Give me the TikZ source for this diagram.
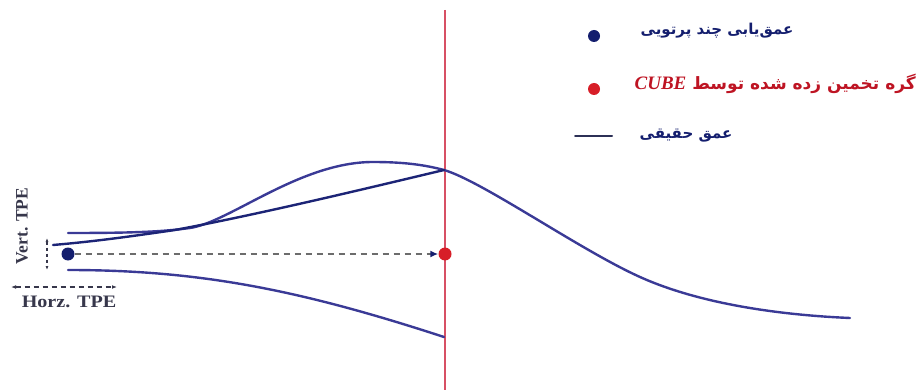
\documentclass[tikz,border=0pt]{standalone}
\usepackage{fontspec}
\setmainfont{Liberation Serif}
\newfontfamily\arabicfont[Script=Arabic]{DejaVu Sans}
\TeXXeTstate=1
\usetikzlibrary{arrows.meta}
\definecolor{curveblue}{RGB}{58,58,150}
\definecolor{navy}{RGB}{20,30,110}
\definecolor{redline}{RGB}{215,80,100}
\definecolor{reddot}{RGB}{215,30,40}
\definecolor{legred}{RGB}{190,20,35}
\definecolor{labgray}{RGB}{55,55,75}
\tikzset{
  curve/.style={draw=curveblue, line width=2.4pt, line cap=round},
  mbdot/.style={circle, fill=navy, inner sep=0pt, minimum size=13pt},
  cubedot/.style={circle, fill=reddot, inner sep=0pt, minimum size=13pt},
  legtext/.style={font=\arabicfont\bfseries\fontsize{15}{17}\selectfont, inner sep=0pt},
  tpelabel/.style={font=\bfseries\fontsize{17.5}{20}\selectfont, text=labgray, inner sep=0pt},
}
\begin{document}
\begin{tikzpicture}[x=1pt,y=-1pt]
\useasboundingbox (0,0) rectangle (918,390);
% red vertical line
\coordinate (rtop) at (445,10);
\coordinate (rbot) at (445,390);
\draw[redline, line width=2.8pt] (rtop) -- (rbot);
% true depth curve
\coordinate (t0) at (68,233);
\coordinate (tj) at (190,228);
\coordinate (tpeak) at (373,162);
\coordinate (tx) at (444,170);
\coordinate (tm) at (640,277);
\coordinate (tend) at (850,318);
\draw[curve] (t0) .. controls (130,233) and (160,232) .. (tj)
  .. controls (230,222) and (300,162) .. (tpeak)
  .. controls (405,162) and (425,165) .. (tx)
  .. controls (482,181) and (580,250) .. (tm)
  .. controls (700,304) and (780,315) .. (tend);
% multi-beam estimate line
\coordinate (r0) at (53,245);
\coordinate (rj) at (175,230);
\draw[curve, draw=navy!80!curveblue] (r0) .. controls (100,241) and (140,235) .. (rj)
  .. controls (260,214) and (360,190) .. (tx);
% lower band
\coordinate (b0) at (68,270);
\coordinate (b1) at (444,337);
\draw[curve] (b0) .. controls (200,270) and (300,290) .. (b1);
% dots
\node[mbdot] (mb) at (68,254) {};
\node[cubedot] (cube) at (445,254) {};
\draw[draw=gray!85!black, line width=1.7pt, dash pattern=on 6pt off 5pt, -{Latex[length=8pt,width=7pt,color=navy]}] (mb) -- (cube);
% TPE arrows
\coordinate (vt) at (47,238);
\coordinate (vb) at (47,270);
\draw[draw=labgray, line width=1.2pt, dash pattern=on 3pt off 3pt, {Latex[length=4pt]}-{Latex[length=4pt]}] (vt) -- (vb);
\coordinate (hl) at (11,287);
\coordinate (hr) at (117,287);
\draw[draw=labgray, line width=1.2pt, dash pattern=on 5pt off 4pt, {Latex[length=5pt]}-{Latex[length=5pt]}] (hl) -- (hr);
\node[tpelabel, rotate=90] (vlab) at (22,226) {Vert. TPE};
\node[tpelabel, xscale=1.15] (hlab) at (69,302) {Horz. TPE};
% legend
\node[mbdot, minimum size=12pt] (l1dot) at (594,36) {};
\node[legtext, text=navy] (l1) at (717,31) {\beginR عمق‌یابی چند پرتویی\endR};
\node[cubedot, minimum size=12pt] (l2dot) at (594,89) {};
\node[legtext, text=legred, anchor=east, font=\arabicfont\bfseries\fontsize{17}{19}\selectfont] (l2) at (916,84) {\beginR گره تخمین زده شده توسط \beginL{\rmfamily\bfseries\itshape\fontsize{19}{20}\selectfont CUBE}\endL\endR};
\coordinate (l3a) at (575,136);
\coordinate (l3b) at (612,136);
\draw[curve, draw=labgray!70!navy, line width=2pt] (l3a) -- (l3b);
\node[legtext, text=navy] (l3) at (686,136) {\beginR عمق حقیقی\endR};
\end{tikzpicture}
\end{document}
